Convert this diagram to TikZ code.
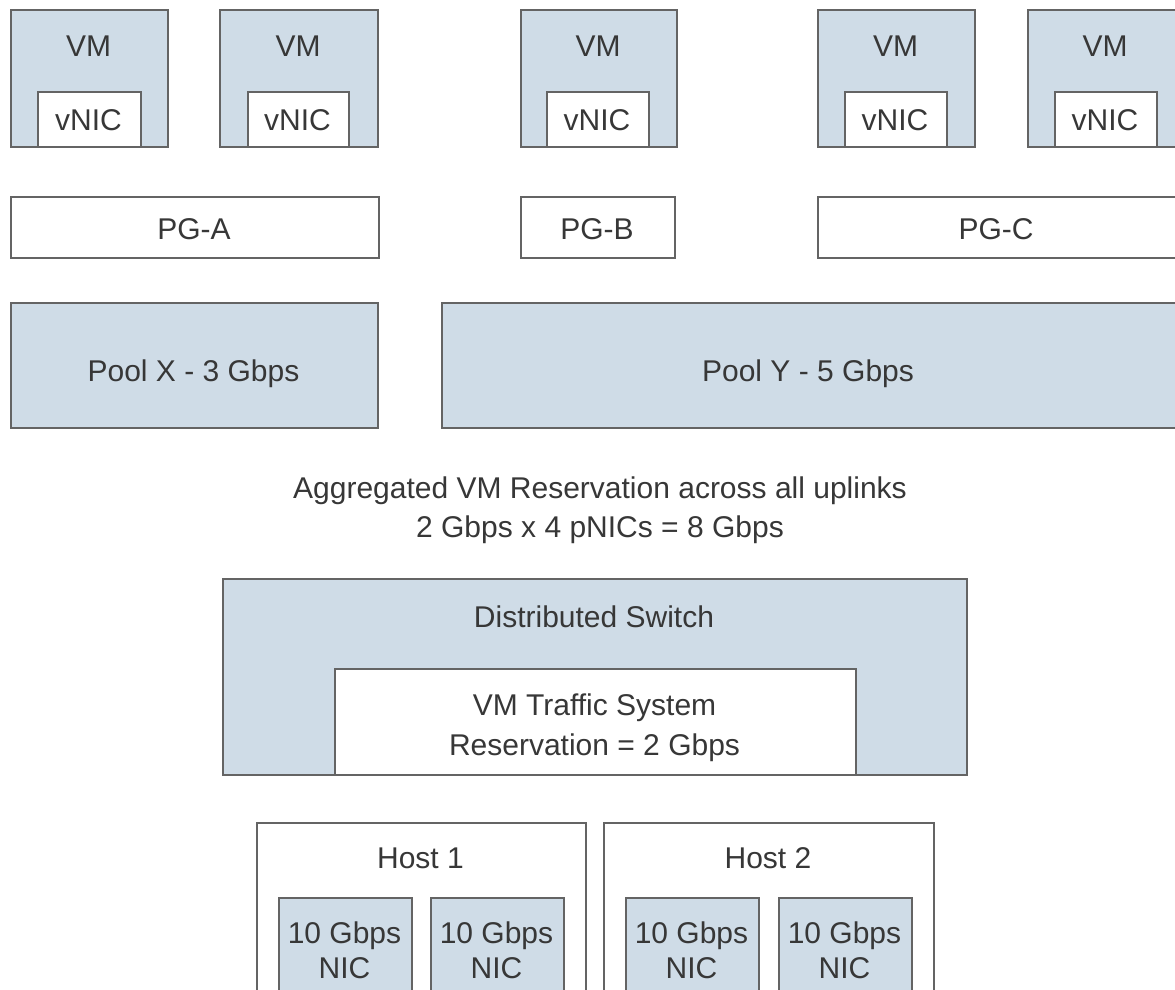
\documentclass[tikz,border=0pt]{standalone}
\usepackage{fontspec}
\setmainfont{Liberation Sans}
\definecolor{fillb}{RGB}{207,220,231}
\definecolor{edge}{RGB}{100,100,100}
\definecolor{txt}{RGB}{55,55,55}
\begin{document}
\begin{tikzpicture}[x=1pt,y=-1pt,
  box/.style={draw=edge, line width=1.6pt, inner sep=0pt, anchor=north west},
  bluebox/.style={box, fill=fillb},
  whitebox/.style={box, fill=white},
  lbl/.style={text=txt, font=\fontsize{30}{40}\selectfont, inner sep=0pt, align=center, anchor=base}]
\useasboundingbox (0,0) rectangle (1175,989);
\clip (0,0) rectangle (1175,989);
% VMs
\node[bluebox, minimum width=157pt, minimum height=137pt] (vm1) at (10,9) {};
\node[whitebox, minimum width=103pt, minimum height=55pt] (nic1) at (37,91) {};
\node[bluebox, minimum width=158pt, minimum height=137pt] (vm2) at (219,9) {};
\node[whitebox, minimum width=101pt, minimum height=55pt] (nic2) at (247,91) {};
\node[bluebox, minimum width=156pt, minimum height=137pt] (vm3) at (520,9) {};
\node[whitebox, minimum width=102pt, minimum height=55pt] (nic3) at (546,91) {};
\node[bluebox, minimum width=157pt, minimum height=137pt] (vm4) at (817,9) {};
\node[whitebox, minimum width=102pt, minimum height=55pt] (nic4) at (844,91) {};
\node[bluebox, minimum width=160pt, minimum height=137pt] (vm5) at (1027,9) {};
\node[whitebox, minimum width=102pt, minimum height=55pt] (nic5) at (1054,91) {};
\node[lbl] (vm1t) at (88.5,56) {VM};
\node[lbl] (vm2t) at (298,56) {VM};
\node[lbl] (vm3t) at (598,56) {VM};
\node[lbl] (vm4t) at (895.5,56) {VM};
\node[lbl] (vm5t) at (1105,56) {VM};
\node[lbl] (nic1t) at (88.5,130) {vNIC};
\node[lbl] (nic2t) at (297.5,130) {vNIC};
\node[lbl] (nic3t) at (597,130) {vNIC};
\node[lbl] (nic4t) at (895,130) {vNIC};
\node[lbl] (nic5t) at (1105,130) {vNIC};
% Port groups
\node[whitebox, minimum width=368pt, minimum height=61pt] (pga) at (10,196) {};
\node[whitebox, minimum width=154pt, minimum height=61pt] (pgb) at (520,196) {};
\node[whitebox, minimum width=370pt, minimum height=61pt] (pgc) at (817,196) {};
\node[lbl] (pgat) at (194,239) {PG-A};
\node[lbl] (pgbt) at (597,239) {PG-B};
\node[lbl] (pgct) at (996,239) {PG-C};
% Pools
\node[bluebox, minimum width=367pt, minimum height=125pt] (poolx) at (10,302) {};
\node[bluebox, minimum width=745pt, minimum height=125pt] (pooly) at (441,302) {};
\node[lbl] (poolxt) at (193.5,381) {Pool X - 3 Gbps};
\node[lbl] (poolyt) at (808,381) {Pool Y - 5 Gbps};
% Aggregate text (base anchor = last line)
\node[lbl] (agg) at (600,537) {Aggregated VM Reservation across all uplinks\\[-1pt]2 Gbps x 4 pNICs = 8 Gbps};
% Distributed switch
\node[bluebox, minimum width=744pt, minimum height=196pt] (ds) at (222,578) {};
\node[whitebox, minimum width=521pt, minimum height=106pt] (vmt) at (334,668) {};
\node[lbl] (dst) at (594,627) {Distributed Switch};
\node[lbl] (vmtt) at (594.5,755) {VM Traffic System\\Reservation = 2 Gbps};
% Hosts
\node[whitebox, minimum width=329pt, minimum height=200pt] (h1) at (256,822) {};
\node[whitebox, minimum width=330pt, minimum height=200pt] (h2) at (603,822) {};
\node[lbl] (h1t) at (420.5,868) {Host 1};
\node[lbl] (h2t) at (768,868) {Host 2};
\node[bluebox, minimum width=133pt, minimum height=120pt] (p1) at (278,897) {};
\node[bluebox, minimum width=133pt, minimum height=120pt] (p2) at (430,897) {};
\node[bluebox, minimum width=133pt, minimum height=120pt] (p3) at (625,897) {};
\node[bluebox, minimum width=133pt, minimum height=120pt] (p4) at (778,897) {};
\node[lbl] (p1t) at (344.5,978) {10 Gbps\\[-5pt]NIC};
\node[lbl] (p2t) at (496.5,978) {10 Gbps\\[-5pt]NIC};
\node[lbl] (p3t) at (691.5,978) {10 Gbps\\[-5pt]NIC};
\node[lbl] (p4t) at (844.5,978) {10 Gbps\\[-5pt]NIC};
\end{tikzpicture}
\end{document}
